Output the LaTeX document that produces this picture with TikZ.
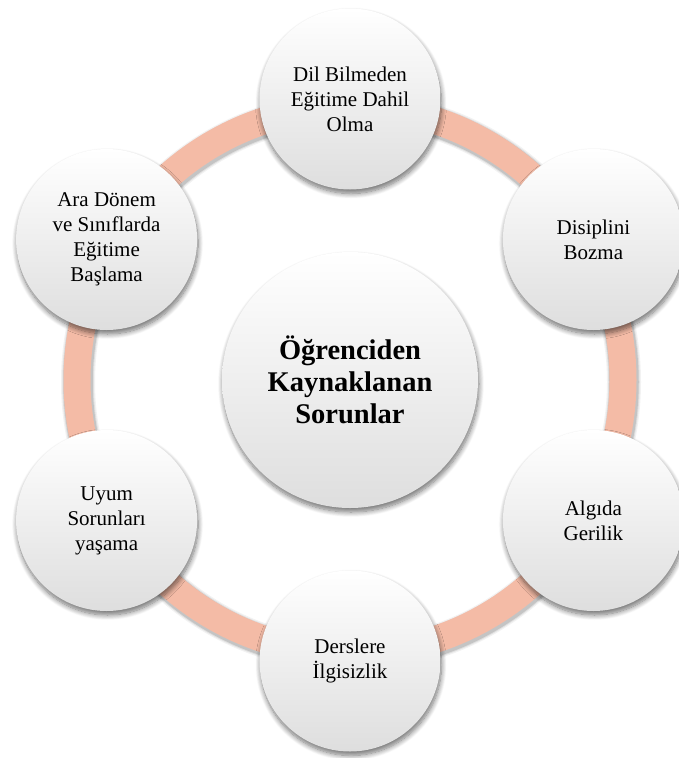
\documentclass[tikz,border=0pt]{standalone}
\usepackage{fontspec}
\setmainfont{Liberation Serif}
\usetikzlibrary{calc,shadows.blur}
\definecolor{ringcol}{RGB}{244,187,166}
\definecolor{shadegray}{RGB}{222,222,222}
\definecolor{midgray}{RGB}{249,249,249}
\tikzset{
  bubble/.style={circle, inner sep=0pt, align=center,
    top color=white, middle color=midgray, bottom color=shadegray,
    blur shadow={shadow xshift=1pt, shadow yshift=-4pt,
      shadow blur radius=5pt, shadow blur steps=10, shadow opacity=55}},
  leaf/.style={bubble, minimum size=181pt,
    font=\fontsize{21}{25}\selectfont},
  hub/.style={bubble, minimum size=256pt,
    font=\fontsize{28.5}{32}\selectfont\bfseries},
}
\begin{document}
\begin{tikzpicture}[x=1pt,y=-1pt]
  \useasboundingbox (0,0) rectangle (678,758);
  \coordinate (mid) at (350,380);
  % ring behind the bubbles, with a soft shadow
  \foreach \w/\o in {34/0.05,31.5/0.08,29.5/0.12}
    \draw[black, opacity=\o, line width=\w pt] ($(mid)+(1,2)$) circle[radius=273pt];
  \draw[ringcol, line width=27pt] (mid) circle[radius=273pt];
  % central topic
  \node[hub] (c) at (mid) {Öğrenciden\\Kaynaklanan\\Sorunlar};
  % surrounding items
  \node[leaf] (n1) at (350,99)    {Dil Bilmeden\\Eğitime Dahil\\Olma};
  \node[leaf] (n2) at (593.4,239.5) {Disiplini\\Bozma};
  \node[leaf] (n3) at (593.4,520.5) {Algıda\\Gerilik};
  \node[leaf] (n4) at (350,661)   {Derslere\\İlgisizlik};
  \node[leaf] (n5) at (106.6,520.5) {Uyum\\Sorunları\\yaşama};
  \node[leaf] (n6) at (106.6,239.5) {Ara Dönem\\ve Sınıflarda\\Eğitime\\Başlama};
\end{tikzpicture}
\end{document}
